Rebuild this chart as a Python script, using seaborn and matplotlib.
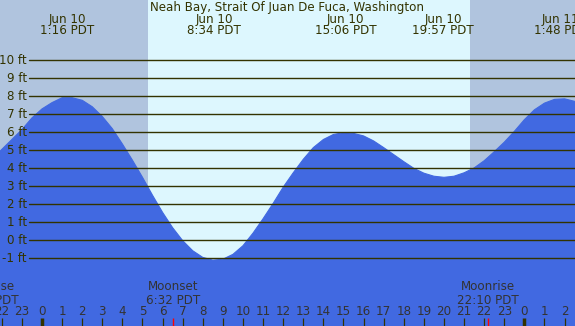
import matplotlib
matplotlib.use('Agg')
import matplotlib.pyplot as plt
import matplotlib.transforms as mtransforms
import numpy as np
import seaborn as sns

# tide heights (ft) every half hour, hours relative to Jun 10 00:00
tide_hours = np.arange(-2.5, 27.5, 0.5)
tide_heights = [4.5, 5.05, 5.6, 6.15, 6.8,
                7.3, 7.65, 7.92, 7.92, 7.78, 7.42, 6.88, 6.2, 5.35, 4.45,
                3.5, 2.5, 1.55, 0.7, -0.02, -0.58, -0.95, -1.1, -1.05, -0.78,
                -0.3, 0.4, 1.2, 2.05, 2.95, 3.75, 4.5, 5.15, 5.6, 5.88,
                5.98, 5.94, 5.8, 5.52, 5.15, 4.76, 4.37, 4.0, 3.73, 3.56,
                3.5, 3.56, 3.75, 4.02, 4.42, 4.92, 5.45, 6.05, 6.7, 7.25,
                7.62, 7.83, 7.86, 7.72, 7.45]

# high / low tide annotations
extreme_hours = [1 + 16/60, 8 + 34/60, 15 + 6/60, 19 + 57/60, 25 + 48/60]
extreme_dates = ['Jun 10', 'Jun 10', 'Jun 10', 'Jun 10', 'Jun 11']
extreme_times = ['1:16 PDT', '8:34 PDT', '15:06 PDT', '19:57 PDT', '1:48 PDT']

# moon events
moon_hours = [-2.7, 6 + 32/60, 22 + 10/60]
moon_names = ['Moonrise', 'Moonset', 'Moonrise']
moon_times = ['21:18 PDT', '6:32 PDT', '22:10 PDT']

# daylight
sunrise, sunset = 5.26, 21.29

levels = list(range(-1, 11))
level_labels = ['{} ft'.format(v) for v in levels]
hour_ticks = list(range(-2, 27))

title = 'Neah Bay, Strait Of Juan De Fuca, Washington'

night_color = '#b0c4de'
day_color = '#ddf7fe'
water_color = '#4169e1'
ink = '#333300'

x_lo, x_hi = -2.09, 26.52
y_lo, y_hi = -4.76, 13.35

sns.set_style('white')
plt.rcParams['font.family'] = ['DejaVu Sans']
fs = 8.6

fig = plt.figure(figsize=(5.75, 3.26), dpi=100)
ax = fig.add_axes([0, 0, 1, 1])
ax.set_xlim(x_lo, x_hi)
ax.set_ylim(y_lo, y_hi)
ax.axis('off')

ax.axvspan(x_lo, x_hi, color=day_color, lw=0, zorder=0)
ax.axvspan(x_lo, sunrise, color=night_color, lw=0, zorder=0)
ax.axvspan(sunset, x_hi, color=night_color, lw=0, zorder=0)

ax.fill_between(tide_hours, tide_heights, y_lo - 1, color=water_color, lw=0, zorder=1)
sns.lineplot(x=tide_hours, y=tide_heights, color=water_color, lw=0.8, ax=ax, zorder=1)

ytrans = mtransforms.blended_transform_factory(ax.transAxes, ax.transData)
xtrans = mtransforms.blended_transform_factory(ax.transData, ax.transAxes)

for v, lab in zip(levels, level_labels):
    ax.axhline(v, xmin=29/575, xmax=1, color=ink, lw=1.0, zorder=2)
    ax.text(27/575, v, lab, transform=ytrans, ha='right', va='center',
            fontsize=fs, color=ink, zorder=3)

ax.text(0.5, 1 - 7/326, title, transform=ax.transAxes, ha='center', va='center',
        fontsize=fs, color=ink)
for h, d, t in zip(extreme_hours, extreme_dates, extreme_times):
    ax.text(h, 1 - 19/326, d, transform=xtrans, ha='center', va='center', fontsize=fs, color=ink)
    ax.text(h, 1 - 31/326, t, transform=xtrans, ha='center', va='center', fontsize=fs, color=ink)

for h, n, t in zip(moon_hours, moon_names, moon_times):
    ax.text(h, 1 - 287/326, n, transform=xtrans, ha='center', va='center', fontsize=fs, color='#333333')
    ax.text(h, 1 - 300/326, t, transform=xtrans, ha='center', va='center', fontsize=fs, color='#333333')
    ax.vlines(h, 0, 8/326, transform=xtrans, color='red', lw=1.0, zorder=3)

for h in hour_ticks:
    ax.text(h, 1 - 311.5/326, str(h % 24), transform=xtrans, ha='center', va='center',
            fontsize=fs, color='#333333')
    bold = h % 24 == 0
    ax.vlines(h, 0, 8/326, transform=xtrans, color=ink, lw=2.5 if bold else 0.9, zorder=3)

fig.savefig('out.png', dpi=100)
